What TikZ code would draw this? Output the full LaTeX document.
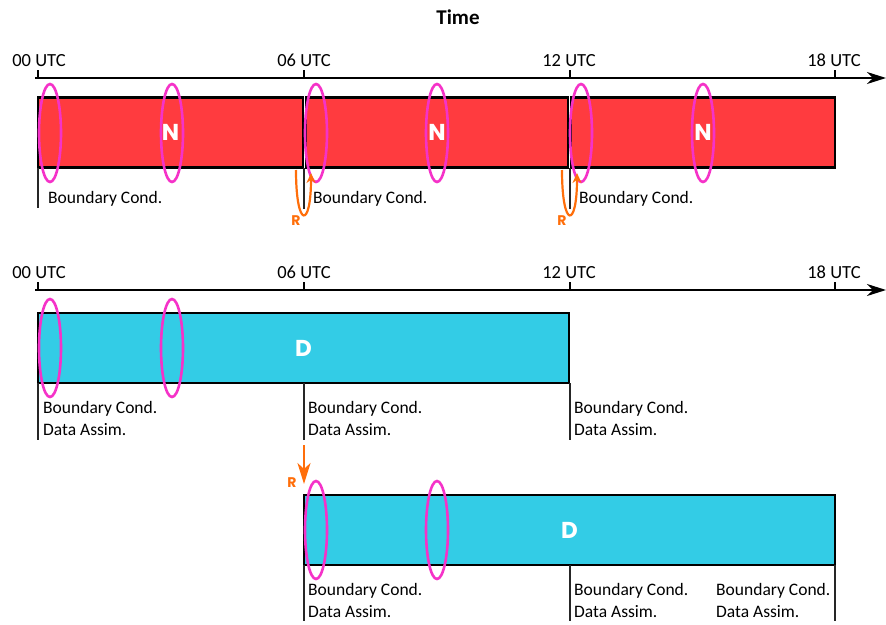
\documentclass[tikz,border=0pt]{standalone}
\usepackage{fontspec}
\setmainfont{Carlito}
\newfontfamily\letterfont{Poppins}
\usetikzlibrary{arrows.meta}

\definecolor{nred}{RGB}{255,59,63}
\definecolor{dcyan}{RGB}{51,204,230}
\definecolor{winpink}{RGB}{245,50,200}
\definecolor{rorange}{RGB}{255,110,10}

\tikzset{
  runbox/.style={draw=black, line width=2.6pt, minimum height=70pt, inner sep=0pt,
    text=white, font=\letterfont\bfseries\fontsize{23}{23}\selectfont},
  window/.style={draw=winpink, line width=2.6pt},
  mark line/.style={line width=1.2pt, draw=black!85},
  cond/.style={anchor=base west, inner sep=0pt, font=\fontsize{17.5}{21}\selectfont},
  utc/.style={anchor=base, inner sep=0pt, font=\fontsize{18.5}{22}\selectfont},
  restart/.style={draw=rorange, line width=2.2pt, -{Stealth[length=10pt,width=9pt]}},
  rlabel/.style={text=rorange, inner sep=0pt, font=\letterfont\bfseries\fontsize{14}{14}\selectfont},
  timeaxis/.style={line width=1.3pt, -{Stealth[length=19pt,width=12pt,inset=6pt]}},
}

\begin{document}
\begin{tikzpicture}[x=1pt,y=-1pt]
    \useasboundingbox (0,0) rectangle (886,624);
    \node[inner sep=0pt, anchor=base, font=\bfseries\fontsize{21}{21}\selectfont] (time) at (458,24) {Time};

    % free runs
    \draw[timeaxis] (35,78) -- (886,78);
    \draw[line width=1.2pt] (38,70) -- (38,78);
    \draw[line width=1.2pt] (304,70) -- (304,78);
    \draw[line width=1.2pt] (570,70) -- (570,78);
    \draw[line width=1.2pt] (835,70) -- (835,78);
    \node[utc] (a00) at (39,66) {00 UTC};
    \node[utc] (a06) at (304,66) {06 UTC};
    \node[utc] (a12) at (569,66) {12 UTC};
    \node[utc] (a18) at (834,66) {18 UTC};

    \node[runbox, fill=nred, minimum width=265pt] (n1) at (170.5,132.5) {N};
    \node[runbox, fill=nred, minimum width=262pt] (n2) at (437,132.5) {N};
    \node[runbox, fill=nred, minimum width=264pt] (n3) at (703,132.5) {N};
    \draw[window] (50,133) ellipse [x radius=11pt, y radius=49pt];
    \draw[window] (172,133) ellipse [x radius=11pt, y radius=49pt];
    \draw[window] (316,133) ellipse [x radius=11pt, y radius=49pt];
    \draw[window] (437,133) ellipse [x radius=11pt, y radius=49pt];
    \draw[window] (581,133) ellipse [x radius=11pt, y radius=49pt];
    \draw[window] (703,133) ellipse [x radius=11pt, y radius=49pt];

    \draw[mark line] (38,168) -- (38,208);
    \draw[mark line] (304,168) -- (304,209);
    \draw[mark line] (570,168) -- (570,209);
    \node[cond] (bc1) at (48,203) {Boundary Cond.};
    \node[cond] (bc2) at (313,203) {Boundary Cond.};
    \node[cond] (bc3) at (579,203) {Boundary Cond.};

    \draw[restart] (296,170) .. controls (296,229) and (311,229) .. (311,173);
    \node[rlabel] (r1) at (296,221) {R};
    \draw[restart] (562,170) .. controls (562,229) and (577,229) .. (577,173);
    \node[rlabel] (r2) at (562,221) {R};

    % assimilation runs
    \draw[timeaxis] (35,290) -- (886,290);
    \draw[line width=1.2pt] (38,282) -- (38,290);
    \draw[line width=1.2pt] (304,282) -- (304,290);
    \draw[line width=1.2pt] (570,282) -- (570,290);
    \draw[line width=1.2pt] (835,282) -- (835,290);
    \node[utc] (b00) at (39,278) {00 UTC};
    \node[utc] (b06) at (304,278) {06 UTC};
    \node[utc] (b12) at (569,278) {12 UTC};
    \node[utc] (b18) at (834,278) {18 UTC};

    \node[runbox, fill=dcyan, minimum width=531pt] (d1) at (303.5,348) {D};
    \draw[window] (50,348) ellipse [x radius=11pt, y radius=49pt];
    \draw[window] (172,348) ellipse [x radius=11pt, y radius=49pt];

    \draw[mark line] (38,383) -- (38,440);
    \draw[mark line] (304,383) -- (304,440);
    \draw[mark line] (570,383) -- (570,440);
    \node[cond] (bc4) at (43,413) {Boundary Cond.};
    \node[cond] (da4) at (43,435) {Data Assim.};
    \node[cond] (bc5) at (308,413) {Boundary Cond.};
    \node[cond] (da5) at (308,435) {Data Assim.};
    \node[cond] (bc6) at (574,413) {Boundary Cond.};
    \node[cond] (da6) at (574,435) {Data Assim.};

    \draw[restart, -{Stealth[length=21pt,width=13pt,inset=6pt]}] (304,445) -- (304,484);
    \node[rlabel] (r3) at (292,483) {R};

    \node[runbox, fill=dcyan, minimum width=531pt] (d2) at (569.5,530) {D};
    \draw[window] (316,530) ellipse [x radius=11pt, y radius=49pt];
    \draw[window] (437,530) ellipse [x radius=11pt, y radius=49pt];

    \draw[mark line] (304,565) -- (304,621);
    \draw[mark line] (570,565) -- (570,621);
    \draw[mark line] (835,565) -- (835,621);
    \node[cond] (bc7) at (308,595) {Boundary Cond.};
    \node[cond] (da7) at (308,617) {Data Assim.};
    \node[cond] (bc8) at (574,595) {Boundary Cond.};
    \node[cond] (da8) at (574,617) {Data Assim.};
    \node[cond] (bc9) at (716,595) {Boundary Cond.};
    \node[cond] (da9) at (716,617) {Data Assim.};
\end{tikzpicture}
\end{document}
